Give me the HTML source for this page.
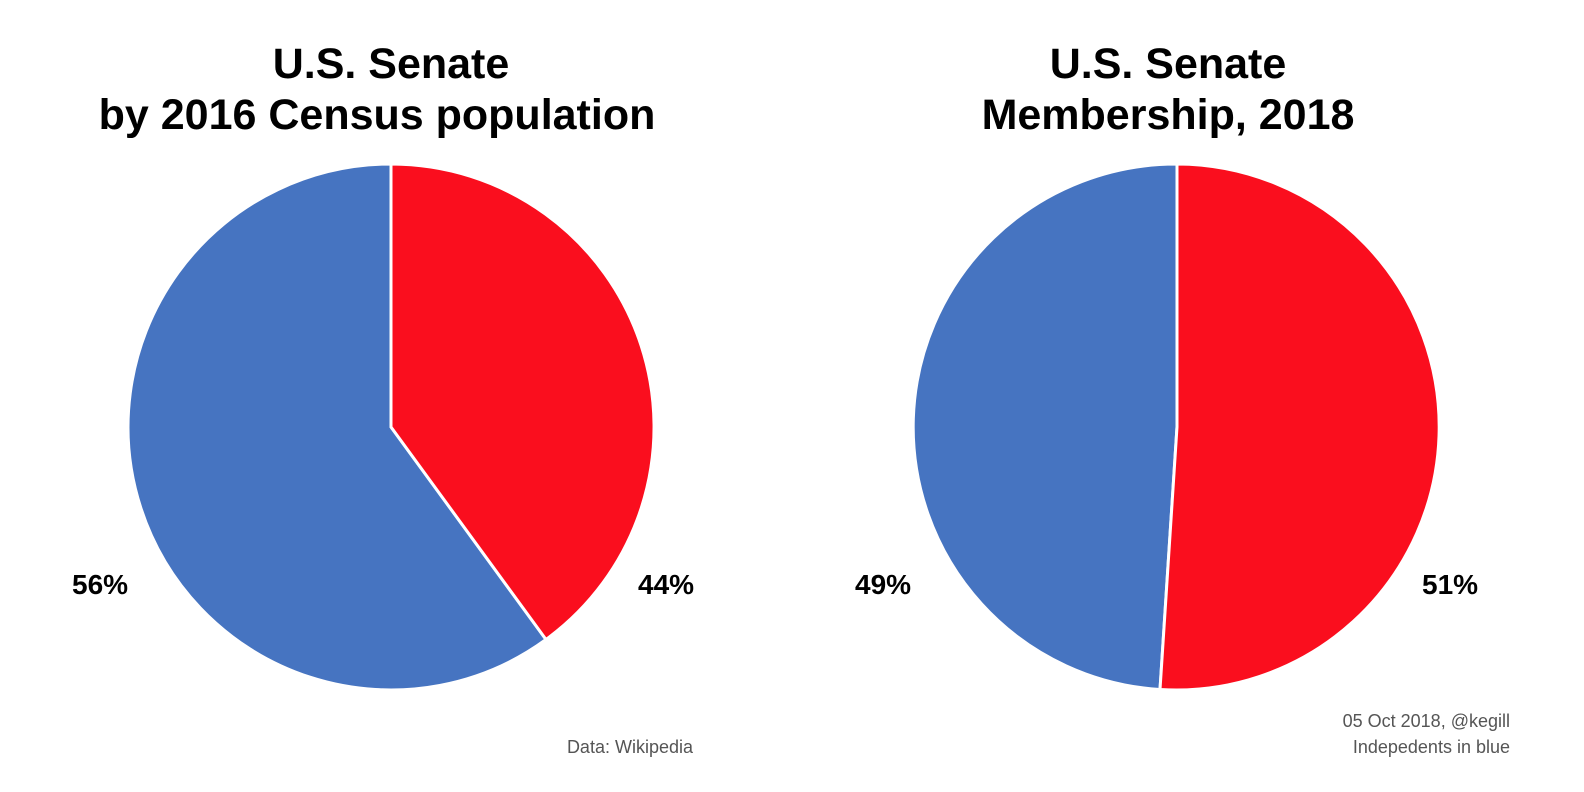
<!DOCTYPE html>
<html><head><meta charset="utf-8"><style>
html,body{margin:0;padding:0;background:#fff}
svg{display:block}
</style></head><body>
<svg width="1584" height="792" viewBox="0 0 1584 792" xmlns="http://www.w3.org/2000/svg">
<rect width="1584" height="792" fill="#fff"/>
<g font-family="Liberation Sans, sans-serif" font-weight="bold" font-size="43" text-anchor="middle" fill="#000">
<text x="391" y="78">U.S. Senate</text>
<text x="377" y="129">by 2016 Census population</text>
<text x="1168" y="78">U.S. Senate</text>
<text x="1168" y="129">Membership, 2018</text>
</g>
<g stroke="#fff" stroke-width="3" stroke-linejoin="round">
<path d="M391,427 L391,164 A263,263 0 1,0 546,639.5 Z" fill="#4674C1"/>
<path d="M391,427 L391,164 A263,263 0 0,1 546,639.5 Z" fill="#FA0E1E"/>
<path d="M1177,427 L1177,164 A263,263 0 0,0 1160,689.5 Z" fill="#4674C1"/>
<path d="M1177,427 L1177,164 A263,263 0 1,1 1160,689.5 Z" fill="#FA0E1E"/>
</g>
<g font-family="Liberation Sans, sans-serif" font-weight="bold" font-size="28" fill="#000">
<text x="72" y="594">56%</text>
<text x="638" y="594">44%</text>
<text x="855" y="594">49%</text>
<text x="1422" y="594">51%</text>
</g>
<g font-family="Liberation Sans, sans-serif" font-size="18" fill="#555" text-anchor="end">
<text x="693" y="753">Data: Wikipedia</text>
<text x="1510" y="727">05 Oct 2018, @kegill</text>
<text x="1510" y="753">Indepedents in blue</text>
</g>
</svg>
</body></html>
